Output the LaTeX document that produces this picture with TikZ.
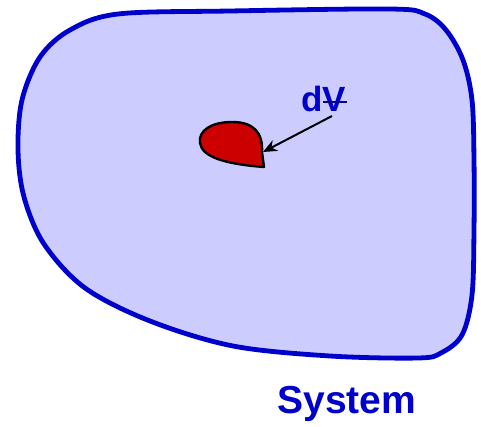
\documentclass[tikz,border=0pt]{standalone}
\usepackage{fontspec}
\setmainfont{Liberation Sans}
\usetikzlibrary{arrows.meta}
\definecolor{sysblue}{RGB}{0,0,204}
\definecolor{sysfill}{RGB}{204,204,255}
\definecolor{dvred}{RGB}{204,0,0}
\tikzset{
  region/.style={draw=sysblue, fill=sysfill, line width=2.4pt, line join=round},
  element/.style={draw=black, fill=dvred, line width=1.2pt, line join=round},
  lbl/.style={text=sysblue, font=\bfseries, inner sep=0pt},
  pointer/.style={draw=black, line width=1pt, -{Stealth[length=7pt,width=6pt]}}
}
\begin{document}
\begin{tikzpicture}[x=0.5pt,y=-0.5pt]
\useasboundingbox (0,0) rectangle (481,427);
% system region
\draw[region] plot[smooth cycle, tension=0.55] coordinates {
  (18,150) (22,100) (40,57) (70,30) (118,14) (230,11) (390,9) (425,14)
  (446,30) (463,60) (472,100) (474,160) (474,230) (472,295) (462,335)
  (441,353) (418,358) (330,356) (233,346) (150,321) (85,288) (44,244) (24,197)};
% volume element
\draw[element] (264,167) -- (262,152)
  .. controls (263,133) and (254,122) .. (232,122)
  .. controls (211,122) and (198,131) .. (200,143)
  .. controls (202,157) and (225,164) .. (264,167) -- cycle;
\coordinate (notch) at (263,152);
% labels
\node[lbl, anchor=base west, font=\bfseries\fontsize{17.5}{20}\selectfont] (dV) at (301,112) {dV};
\draw[sysblue!70!black, line width=0.7pt] (323,102) -- (347,102);
\coordinate (arrstart) at (332,116);
\draw[pointer] (arrstart) -- (notch);
\node[lbl, anchor=base west, font=\bfseries\fontsize{19.5}{22}\selectfont] (System) at (277,413) {System};
\end{tikzpicture}
\end{document}
